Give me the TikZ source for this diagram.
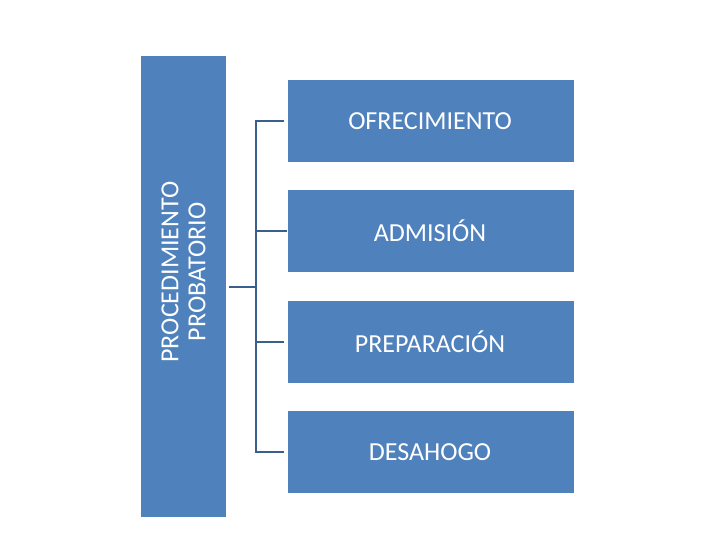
\documentclass[tikz,border=0pt]{standalone}
\usepackage{fontspec}
\setmainfont{Carlito}
\definecolor{boxblue}{HTML}{4F81BD}
\definecolor{linec}{HTML}{3B5F8C}
\begin{document}
\begin{tikzpicture}[x=1pt,y=-1pt,
  box/.style={fill=boxblue,draw=white,line width=1pt,minimum width=287pt,minimum height=83pt,anchor=north west,inner sep=0pt},
  lbl/.style={text=white,font=\fontsize{26}{30}\selectfont},
  conn/.style={draw=linec,line width=2.2pt}]
\useasboundingbox (0,0) rectangle (720,540);
\node[fill=boxblue,minimum width=85pt,minimum height=461pt,anchor=north west,inner sep=0pt] (bar) at (141,56) {};
\node[lbl,rotate=90,align=center,font=\fontsize{26}{27}\selectfont] (bart) at (183.5,272) {PROCEDIMIENTO\\PROBATORIO};
\node[box] (b1) at (287,79) {};
\node[box] (b2) at (287,189) {};
\node[box] (b3) at (287,300) {};
\node[box] (b4) at (287,410) {};
\node[lbl] (t1) at (430,121) {OFRECIMIENTO};
\node[lbl] (t2) at (430,231) {ADMISIÓN};
\node[lbl] (t3) at (430,342) {PREPARACIÓN};
\node[lbl] (t4) at (430,452) {DESAHOGO};
\coordinate (s) at (229,287);
\coordinate (j) at (256,287);
\coordinate (v1) at (256,121);
\coordinate (v4) at (256,452);
\draw[conn] (s) -- (j);
\draw[conn] (284,121) -- (v1) -- (v4) -- (284,452);
\draw[conn] (256,231) -- (b2.west |- 0,231) ++(-3,0);
\draw[conn] (256,231) -- (284,231);
\draw[conn] (256,342) -- (284,342);
\end{tikzpicture}
\end{document}
